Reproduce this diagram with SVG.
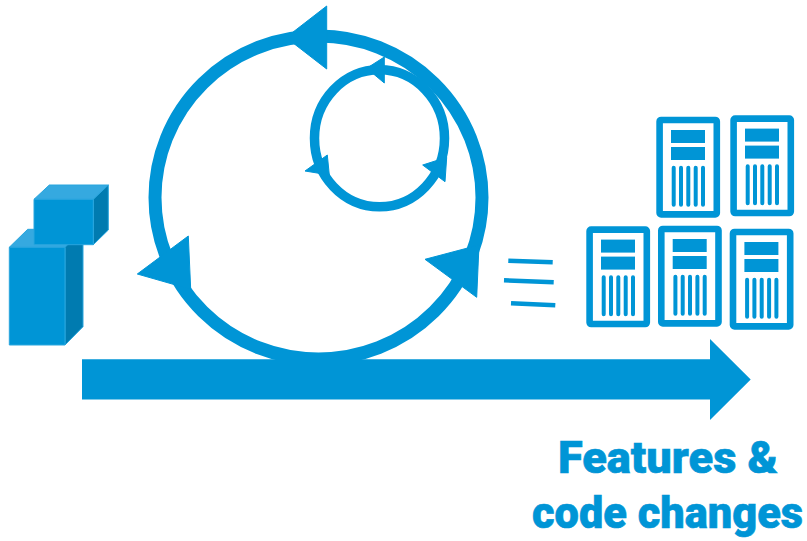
<svg xmlns="http://www.w3.org/2000/svg" width="807" height="541" viewBox="0 0 807 541">
<style>
.fill{fill:#0095d6}
.line{fill:none;stroke:#0095d6}
.front{fill:#0095d6;stroke:#29a6de;stroke-width:1;stroke-linejoin:round}
.top{fill:#35a9e0;stroke:#29a6de;stroke-width:1;stroke-linejoin:round}
.side{fill:#007bb0;stroke:#29a6de;stroke-width:1;stroke-linejoin:round}
.head{fill:#0095d6;stroke:#0095d6;stroke-width:1;stroke-linejoin:round}
.label{font-family:"Roboto","Liberation Sans",sans-serif;font-weight:900;font-size:44px;fill:#0095d6;stroke:#0095d6;stroke-width:.6}
</style>
<defs>
<g id="server">
<rect x="3.3" y="3.3" width="57.2" height="94.4" rx="1.5" fill="#fff" stroke="#0095d6" stroke-width="6.6"/>
<rect class="fill" x="14.7" y="13.3" width="34" height="13"/>
<rect class="fill" x="14.7" y="30.3" width="34" height="13"/>
<g class="line" stroke-width="4" stroke-linecap="round">
<path d="M17.4 51V88M24.7 51V88M32 51V88M39.4 51V88M46.7 51V88"/>
</g>
</g>
</defs>
<rect width="807" height="541" fill="#fff"/>
<g id="cube-large">
<path class="top" d="M9.3 247.3L27.7 229.3H83L65 247.3Z"/>
<path class="side" d="M65 247.3L83 229.3V326.7L65 345Z"/>
<rect class="front" x="9.3" y="247.3" width="55.7" height="97.7"/>
</g>
<g id="cube-small">
<path class="top" d="M34 199.3L49.3 185H108.3L93.3 199.3Z"/>
<path class="side" d="M93.3 199.3L108.3 185V230L93.3 244.7Z"/>
<rect class="front" x="34" y="199.3" width="59.3" height="45.4"/>
</g>
<g id="connectors">
<ellipse class="line" cx="318.5" cy="197.5" rx="163.5" ry="161.5" stroke-width="13"/>
<ellipse class="line" cx="379.5" cy="138.3" rx="65" ry="68.5" stroke-width="9.5"/>
<path class="head" d="M326.7 6L326.7 69L286 37.5Z"/>
<path class="head" d="M188.3 236L190.7 289.3L137.3 274Z"/>
<path class="head" d="M425 259.3L479 245L476.7 297.3Z"/>
<path class="head" d="M384.3 57L384.3 83L366.7 68.3Z"/>
<path class="head" d="M327.3 155L329.3 175L305 171Z"/>
<path class="head" d="M422.7 165L446.7 157.3L445 181.7Z"/>
<g class="line" stroke-width="4.6">
<path d="M508.3 260.7L552.7 262.3"/>
<path d="M504 280.3L553.7 282.3"/>
<path d="M511 303.3L555.3 305.3"/>
</g>
<path id="timeline" class="fill" d="M82 359.3H710V339L750.7 379.5L710 420V399.5H82Z"/>
</g>
<g id="server-1"><use href="#server" x="656.3" y="116.7"/></g>
<g id="server-2"><use href="#server" x="730.3" y="115.3"/></g>
<g id="server-3"><use href="#server" x="586.3" y="226.3"/></g>
<g id="server-4"><use href="#server" x="658" y="225.7"/></g>
<g id="server-5"><use href="#server" x="729.7" y="228.7"/></g>
<g id="label">
<text class="label" x="558" y="473" textLength="220" lengthAdjust="spacingAndGlyphs">Features &amp;</text>
<text class="label" x="532" y="528" textLength="271" lengthAdjust="spacingAndGlyphs">code changes</text>
</g>
</svg>
